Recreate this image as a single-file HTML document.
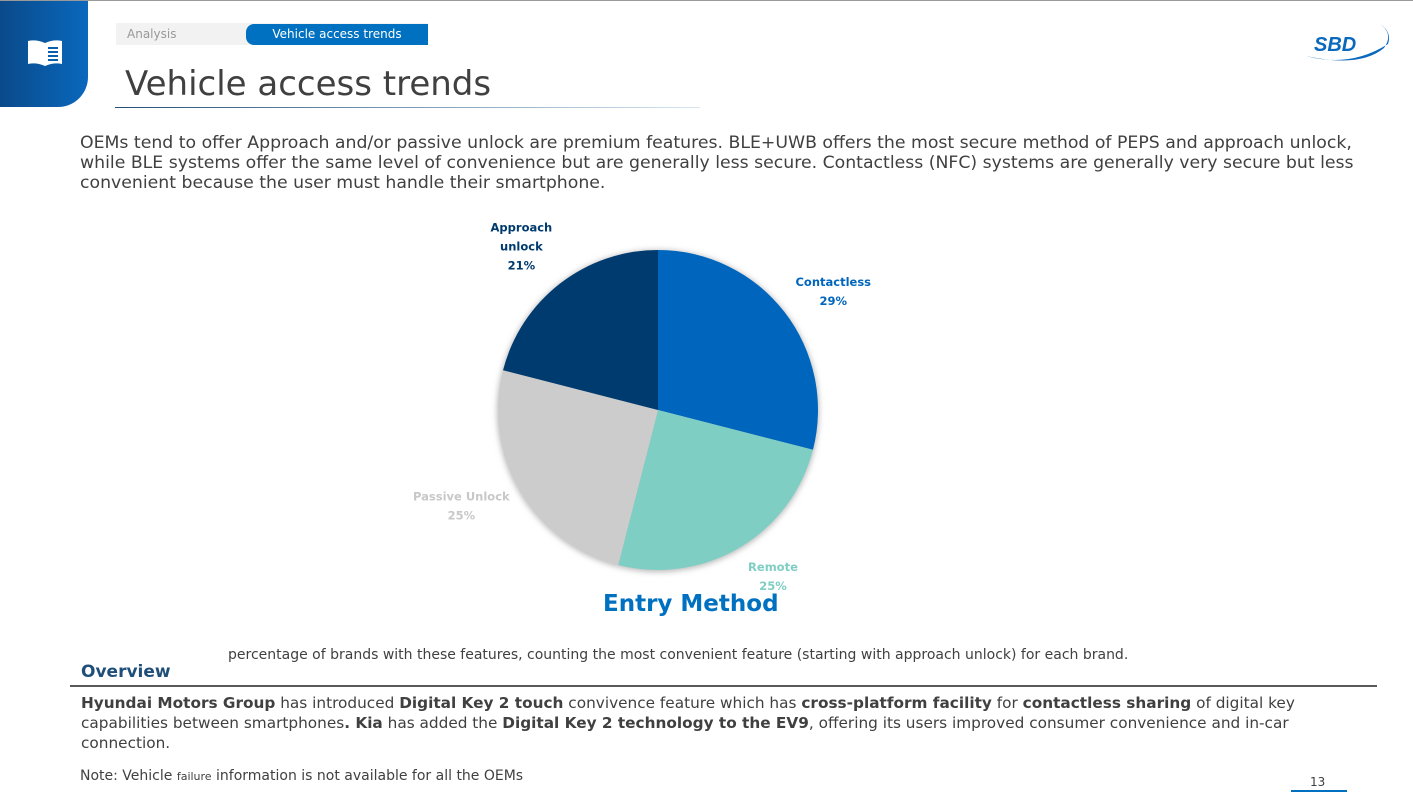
<!DOCTYPE html>
<html><head><meta charset="utf-8"><style>
body{margin:0;width:1413px;height:793px;background:#fff;position:relative;overflow:hidden;font-family:"DejaVu Sans","Liberation Sans",sans-serif;color:#404040}
.a{position:absolute;white-space:nowrap}
b{color:#404040}
</style></head><body>
<div class="a" style="left:0;top:0;width:1413px;height:1px;background:#999"></div>
<div class="a" style="left:0;top:1px;width:88px;height:106px;background:linear-gradient(90deg,#0a4a8a,#0a68bd);border-radius:0 0 30px 0">
<svg width="88" height="106"><path d="M28 40 Q36 38 45 42 Q54 38 62 40 L62 63 Q54 61 45 65 Q36 61 28 63Z" fill="#fff"/><g stroke="#0a5fae" stroke-width="2"><line x1="48" y1="47" x2="58" y2="47"/><line x1="48" y1="51" x2="58" y2="51"/><line x1="48" y1="55" x2="58" y2="55"/><line x1="48" y1="59" x2="58" y2="59"/></g></svg></div>
<div class="a" style="left:116px;top:23px;width:312px;height:22px;background:#f2f2f2;font-size:12px;color:#999;line-height:22px;padding-left:11px;box-sizing:border-box">Analysis</div>
<div class="a" style="left:246px;top:24px;width:182px;height:21px;background:#0070c0;border-radius:8px 0 0 8px;color:#fff;font-size:12px;line-height:20px;text-align:center">Vehicle access trends</div>
<div class="a" style="left:125px;top:64px;font-size:34px;color:#404040">Vehicle access trends</div>
<div class="a" style="left:115px;top:107px;width:585px;height:1px;background:linear-gradient(90deg,#1f4e79,#d9e6f2)"></div>
<svg class="a" style="left:1300px;top:18px" width="95" height="48"><path d="M6 38 Q50 50 88 26 Q92 14 80 6 Q94 16 84 30 Q60 50 6 38Z" fill="#0a68bd"/><text x="14" y="33" font-size="20" font-weight="bold" font-style="italic" fill="#0a68bd" font-family="Liberation Sans">SBD</text></svg>
<div class="a" style="left:80px;top:133px;font-size:17.3px;line-height:20px;color:#404040;white-space:normal;width:1300px">OEMs tend to offer Approach and/or passive unlock are premium features. BLE+UWB offers the most secure method of PEPS and approach unlock, while BLE systems offer the same level of convenience but are generally less secure. Contactless (NFC) systems are generally very secure but less convenient because the user must handle their smartphone.</div>
<svg class="a" id="pie" style="left:0;top:0" width="1413" height="640"></svg>
<div class="a" style="left:603px;top:591px;font-size:23px;font-weight:bold;color:#0070c0">Entry Method</div>
<div class="a" style="left:228px;top:647px;font-size:14px;color:#404040">percentage of brands with these features, counting the most convenient feature (starting with approach unlock) for each brand.</div>
<div class="a" style="left:81px;top:662px;font-size:17px;font-weight:bold;color:#1f4e79">Overview</div>
<div class="a" style="left:70px;top:685px;width:1307px;height:2px;background:#595959"></div>
<div class="a" style="left:81px;top:693px;font-size:15.3px;line-height:20px;white-space:normal;width:1290px"><b>Hyundai Motors Group</b> has introduced <b>Digital Key 2 touch</b> convivence feature which has <b>cross-platform facility</b> for <b>contactless sharing</b> of digital key capabilities between smartphones<b>. Kia</b> has added the <b>Digital Key 2 technology to the EV9</b>, offering its users improved consumer convenience and in-car connection.</div>
<div class="a" style="left:80px;top:768px;font-size:14px;color:#404040">Note: Vehicle <span style="font-size:11px">failure</span> information is not available for all the OEMs</div>
<div class="a" style="left:1310px;top:775px;font-size:12px;color:#404040">13</div>
<div class="a" style="left:1291px;top:790px;width:56px;height:2px;background:#0070c0"></div>
<script>
const categories=["Contactless","Remote","Passive Unlock","Approach unlock"];
const values=[29,25,25,21];
const colors=["#0066bd","#7fcec4","#cccccc","#003b6f"];
const labelColors=["#0066bd","#7fcec4","#c8c8c8","#003b6f"];
// label nudges relative to mid-angle anchor (layout only)
const labelDx=[3,4,-9,-3];
const labelDy=[15,-21,-15,9];
const svg=document.getElementById('pie');const NS='http://www.w3.org/2000/svg';
const cx=658,cy=410,r=160;
const total=values.reduce((a,b)=>a+b,0);
function pt(f,rr){const a=f*2*Math.PI;return [cx+rr*Math.sin(a),cy-rr*Math.cos(a)];}
const defs=document.createElementNS(NS,'defs');defs.innerHTML='<filter id="sh" x="-20%" y="-20%" width="140%" height="140%"><feGaussianBlur stdDeviation="3"/></filter>';svg.appendChild(defs);
const sh=document.createElementNS(NS,'circle');sh.setAttribute('cx',cx);sh.setAttribute('cy',cy+1);sh.setAttribute('r',r+1);sh.setAttribute('fill','#bbb');sh.setAttribute('filter','url(#sh)');


svg.appendChild(sh);
let acc=0;const labels=[];
values.forEach((v,i)=>{const f0=acc/total,f1=(acc+v)/total;acc+=v;
const [x0,y0]=pt(f0,r),[x1,y1]=pt(f1,r);
const p=document.createElementNS(NS,'path');
p.setAttribute('d',`M${cx},${cy}L${x0},${y0}A${r},${r} 0 ${f1-f0>0.5?1:0} 1 ${x1},${y1}Z`);
p.setAttribute('fill',colors[i]);


svg.appendChild(p);
const fm=(f0+f1)/2;let [lx,ly]=pt(fm,r+58);lx+=labelDx[i];ly+=labelDy[i];
const words=categories[i]==="Approach unlock"?["Approach","unlock"]:[categories[i]];
const lines=words.concat([v+"%"]);
const t=document.createElementNS(NS,'text');
t.setAttribute('text-anchor','middle');t.setAttribute('font-size','11.5');t.setAttribute('font-weight','bold');t.setAttribute('fill',labelColors[i]);t.setAttribute('font-family','DejaVu Sans, sans-serif');


const y0l=ly-(lines.length-1)*19/2+4;
lines.forEach((s,k)=>{const ts=document.createElementNS(NS,'tspan');ts.setAttribute('x',lx);ts.setAttribute('y',y0l+k*19);ts.textContent=s;t.appendChild(ts);});
labels.push(t);
});
labels.forEach(t=>svg.appendChild(t));
</script>
</body></html>
